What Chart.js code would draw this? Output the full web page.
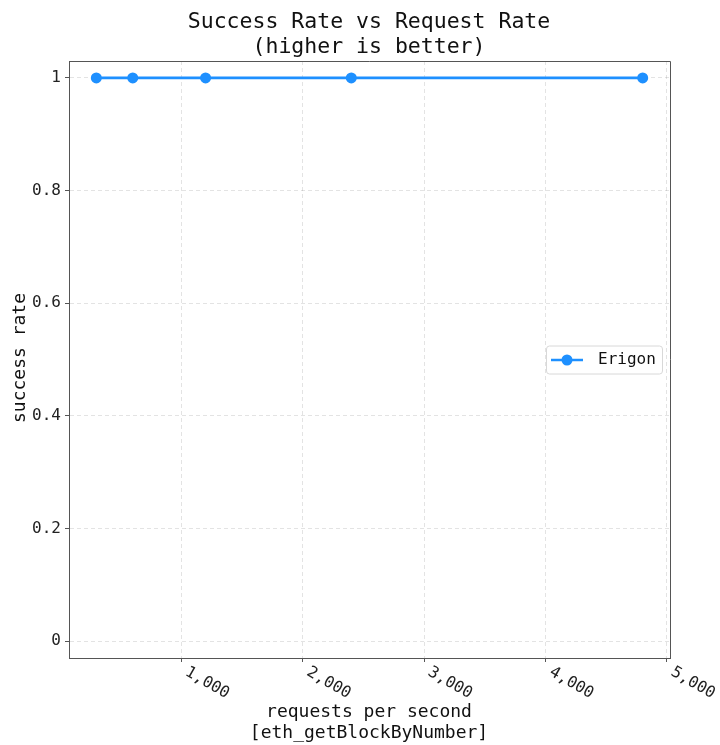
<!DOCTYPE html>
<html>
<head>
<meta charset="utf-8">
<script src="https://cdn.jsdelivr.net/npm/chart.js@4.4.0/dist/chart.umd.min.js"></script>
<style>
  html, body { margin: 0; padding: 0; background: #ffffff; }
  #wrap { width: 720px; height: 745px; }
</style>
</head>
<body>
<div id="wrap"><canvas id="c" width="720" height="745"></canvas></div>
<script>
const requestRates = [300, 600, 1200, 2400, 4800];
const successRates = [1, 1, 1, 1, 1];
const seriesName = 'Erigon';
const xTickValues = [1000, 2000, 3000, 4000, 5000];
const xTickLabels = ['1,000', '2,000', '3,000', '4,000', '5,000'];
const yTickValues = [0, 0.2, 0.4, 0.6, 0.8, 1];
const yTickLabels = ['0', '0.2', '0.4', '0.6', '0.8', '1'];
const titleLines = ['Success Rate vs Request Rate', '(higher is better)'];
const xTitleLines = ['requests per second', '[eth_getBlockByNumber]'];
const yTitle = 'success rate';

const FONT = '"DejaVu Sans Mono", monospace';
const BLUE = '#1e90ff';
const GRID = 'rgba(0,0,0,0.11)';
const SPINE = '#555555';

const overlay = {
  id: 'overlay',
  afterDraw(chart) {
    const ctx = chart.ctx;
    const a = chart.chartArea;
    const xs = chart.scales.x;
    ctx.save();
    // top & right spines
    ctx.strokeStyle = SPINE;
    ctx.lineWidth = 1;
    ctx.beginPath();
    ctx.moveTo(a.left, a.top + 0.5);
    ctx.lineTo(a.right + 0.5, a.top + 0.5);
    ctx.lineTo(a.right + 0.5, a.bottom);
    ctx.stroke();

    // rotated x tick labels
    ctx.fillStyle = '#222';
    ctx.font = '16px ' + FONT;
    ctx.textAlign = 'left';
    ctx.textBaseline = 'top';
    xTickValues.forEach((v, i) => {
      const px = xs.getPixelForValue(v);
      ctx.save();
      ctx.translate(px + 9, a.bottom + 6);
      ctx.rotate(30 * Math.PI / 180);
      ctx.fillText(xTickLabels[i], 0, 0);
      ctx.restore();
    });

    // title
    ctx.textAlign = 'center';
    ctx.textBaseline = 'middle';
    ctx.font = '21.5px ' + FONT;
    ctx.fillStyle = '#111';
    ctx.fillText(titleLines[0], 369, 22);
    ctx.fillText(titleLines[1], 369, 47);

    // x title
    ctx.font = '18px ' + FONT;
    ctx.fillText(xTitleLines[0], 369, 712);
    ctx.fillText(xTitleLines[1], 369, 733);

    // y title
    ctx.save();
    ctx.translate(20, 358);
    ctx.rotate(-Math.PI / 2);
    ctx.fillText(yTitle, 0, 0);
    ctx.restore();

    // legend
    const ly = chart.scales.y.getPixelForValue(0.5);
    const bx = a.right - 124, by = ly - 14, bw = 116, bh = 28;
    ctx.beginPath();
    if (ctx.roundRect) ctx.roundRect(bx + 0.5, by + 0.5, bw, bh, 3); else ctx.rect(bx + 0.5, by + 0.5, bw, bh);
    ctx.fillStyle = 'rgba(255,255,255,0.85)';
    ctx.fill();
    ctx.strokeStyle = '#d8d8d8';
    ctx.lineWidth = 1;
    ctx.stroke();
    const cy = by + bh / 2 + 0.5;
    ctx.strokeStyle = BLUE;
    ctx.lineWidth = 2.5;
    ctx.beginPath();
    ctx.moveTo(bx + 5, cy);
    ctx.lineTo(bx + 37, cy);
    ctx.stroke();
    ctx.fillStyle = BLUE;
    ctx.beginPath();
    ctx.arc(bx + 21, cy, 5.5, 0, Math.PI * 2);
    ctx.fill();
    ctx.fillStyle = '#111';
    ctx.font = '16px ' + FONT;
    ctx.textAlign = 'left';
    ctx.textBaseline = 'middle';
    ctx.fillText(seriesName, bx + 52, cy);
    ctx.restore();
  }
};

new Chart(document.getElementById('c'), {
  type: 'line',
  data: {
    datasets: [{
      label: seriesName,
      data: requestRates.map((x, i) => ({ x: x, y: successRates[i] })),
      borderColor: BLUE,
      backgroundColor: BLUE,
      borderWidth: 2.8,
      pointRadius: 5.5,
      pointHoverRadius: 5.5,
      pointBorderWidth: 0,
      pointBackgroundColor: BLUE,
      tension: 0,
      fill: false
    }]
  },
  options: {
    responsive: false,
    animation: false,
    devicePixelRatio: 1,
    layout: { padding: { top: 61, right: 50, bottom: 0, left: 0 } },
    plugins: {
      legend: { display: false },
      title: { display: false },
      tooltip: { enabled: false }
    },
    scales: {
      x: {
        type: 'linear',
        min: 75,
        max: 5025,
        afterBuildTicks: s => { s.ticks = xTickValues.map(v => ({ value: v })); },
        afterFit: s => { s.height = 87; },
        ticks: { display: false },
        grid: {
          color: GRID,
          tickBorderDash: [],
          tickColor: SPINE,
          tickLength: 4,
          drawTicks: true
        },
        border: { display: true, color: SPINE, width: 1, dash: [4, 3] }
      },
      y: {
        type: 'linear',
        min: -0.03,
        max: 1.03,
        afterBuildTicks: s => { s.ticks = yTickValues.map(v => ({ value: v })); },
        afterFit: s => { s.width = 69; },
        ticks: {
          padding: 4,
          color: '#222',
          font: { family: FONT, size: 16 },
          callback: (v) => {
            const i = yTickValues.findIndex(t => Math.abs(t - v) < 1e-9);
            return i >= 0 ? yTickLabels[i] : '';
          }
        },
        grid: {
          color: GRID,
          tickBorderDash: [],
          tickColor: SPINE,
          tickLength: 4,
          drawTicks: true
        },
        border: { display: true, color: SPINE, width: 1, dash: [4, 3] }
      }
    }
  },
  plugins: [overlay]
});
</script>
</body>
</html>
